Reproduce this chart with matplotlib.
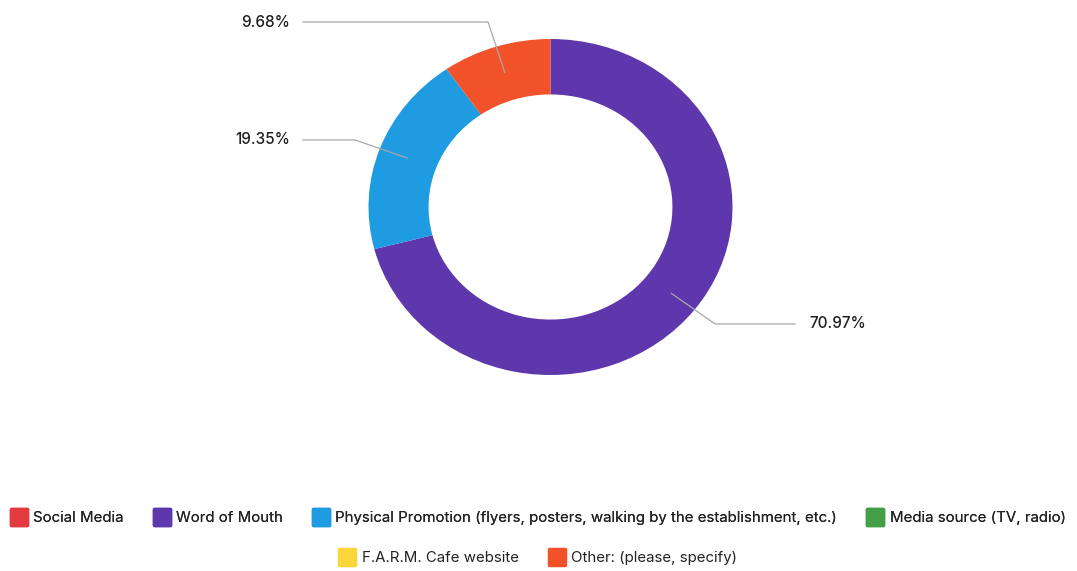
import matplotlib.pyplot as plt
from matplotlib.lines import Line2D
from matplotlib.markers import MarkerStyle
import numpy as np

plt.rcParams['font.family'] = ['Inter', 'DejaVu Sans']

# data
categories = ["Social Media", "Word of Mouth",
              "Physical Promotion (flyers, posters, walking by the establishment, etc.)",
              "Media source (TV, radio)", "F.A.R.M. Cafe website", "Other: (please, specify)"]
responses = [0, 22, 6, 0, 0, 3]
colors = ["#e33b3f", "#5e37ad", "#1e9be1", "#43a047", "#fbd63a", "#f2522a"]

# label placement: (elbow x, elbow y, line end x) in data units, for non-zero slices
label_spots = {1: (0.904, -0.696, 1.343),
               2: (-1.074, 0.399, -1.36),
               5: (-0.343, 1.101, -1.36)}

W, H = 1077, 571
fig = plt.figure(figsize=(W / 100, H / 100), dpi=100)
ax = fig.add_axes([0, 0, 1, 1])

wedges, _ = ax.pie(responses, colors=colors, startangle=90, counterclock=False,
                   radius=1.0, wedgeprops=dict(width=0.33, linewidth=0))

cx, cy = 550.5, 207      # pie centre in px (from top)
rx, ry = 182, 168        # px per data unit
ax.set_xlim(-cx / rx, (W - cx) / rx)
ax.set_ylim(-(H - cy) / ry, cy / ry)
ax.set_aspect('auto')
ax.axis('off')

total = sum(responses)
for i, w in enumerate(wedges):
    if responses[i] == 0:
        continue
    ang = np.deg2rad((w.theta1 + w.theta2) / 2)
    px, py = 0.84 * np.cos(ang), 0.84 * np.sin(ang)
    ex, ey, lx = label_spots[i]
    ax.plot([px, ex, lx], [py, ey, ey], color="#a8a8a8", lw=0.9, zorder=3)
    pct = 100 * responses[i] / total
    if lx < 0:
        ax.text(lx - 0.07, ey, f"{pct:.2f}%", ha="right", va="center",
                fontsize=11, fontweight="medium", color="#1e1e1e")
    else:
        ax.text(lx + 0.08, ey, f"{pct:.2f}%", ha="left", va="center",
                fontsize=11, fontweight="medium", color="#1e1e1e")

sq = MarkerStyle('s', joinstyle='round')
handles = [Line2D([], [], linestyle='none', marker=sq, markersize=11,
                  markerfacecolor=c, markeredgecolor=c, markeredgewidth=2.5)
           for c in colors]

leg1 = fig.legend(handles[:4], categories[:4], loc="center", ncol=4,
                  bbox_to_anchor=(0.5, 1 - 518 / H), frameon=False,
                  fontsize=10.8, handlelength=1.0, handletextpad=0.45,
                  columnspacing=2.05, labelcolor="#222222")
fig.add_artist(leg1)
fig.legend(handles[4:], categories[4:], loc="center", ncol=2,
           bbox_to_anchor=(0.5, 1 - 558 / H), frameon=False,
           fontsize=10.8, handlelength=1.0, handletextpad=0.45,
           columnspacing=2.05, labelcolor="#222222")

fig.savefig("out.png", dpi=100)
